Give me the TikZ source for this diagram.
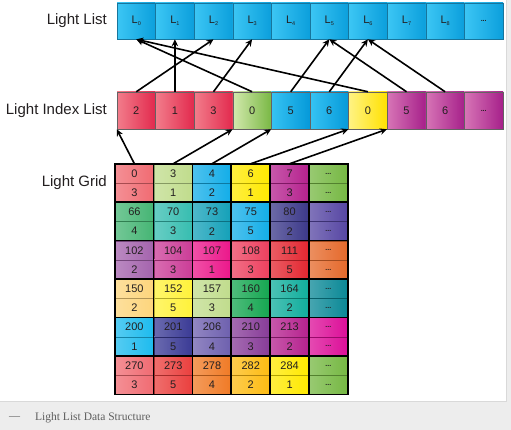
\documentclass[tikz,border=0pt]{standalone}
\usepackage{fontspec}
\setmainfont{Liberation Sans}
\newfontfamily\captionserif{Liberation Serif}
\usetikzlibrary{arrows.meta}
\definecolor{ink}{HTML}{231F20}
\definecolor{capbg}{HTML}{EDEDED}
\definecolor{capline}{HTML}{D9D9D9}
\definecolor{captext}{HTML}{5F5F5F}
\definecolor{LLa}{HTML}{3CC6F4}
\definecolor{LLb}{HTML}{0B9FDC}
\definecolor{LLline}{HTML}{17759C}
\definecolor{redL}{HTML}{F27D8B}
\definecolor{redR}{HTML}{E2294D}
\definecolor{grnL}{HTML}{D3E9AE}
\definecolor{grnR}{HTML}{79B844}
\definecolor{cynL}{HTML}{36C3F3}
\definecolor{cynR}{HTML}{0599D9}
\definecolor{ylwL}{HTML}{FFF384}
\definecolor{ylwR}{HTML}{FFE100}
\definecolor{magL}{HTML}{D775B6}
\definecolor{magR}{HTML}{A6208A}
\definecolor{gSalmon}{HTML}{F06B72}
\definecolor{gLime}{HTML}{C0DC8C}
\definecolor{gCyan}{HTML}{12ADE8}
\definecolor{gYellow}{HTML}{FFE900}
\definecolor{gMagenta}{HTML}{B5218E}
\definecolor{gGreen}{HTML}{76B843}
\definecolor{gMint}{HTML}{45B574}
\definecolor{gTeal}{HTML}{36BDB0}
\definecolor{gTealDk}{HTML}{13A0B8}
\definecolor{gIndigo}{HTML}{3B3889}
\definecolor{gViolet}{HTML}{5646A3}
\definecolor{gLavender}{HTML}{A463AD}
\definecolor{gPink}{HTML}{CB3C97}
\definecolor{gHotPink}{HTML}{EB168A}
\definecolor{gRose}{HTML}{ED3F5E}
\definecolor{gRed}{HTML}{E32630}
\definecolor{gOrange}{HTML}{E5692B}
\definecolor{gApricot}{HTML}{FDD57C}
\definecolor{gLemon}{HTML}{FFF23A}
\definecolor{gEmerald}{HTML}{14A650}
\definecolor{gTurq}{HTML}{10AD9C}
\definecolor{gPetrol}{HTML}{0A8896}
\definecolor{gSky}{HTML}{1DBBEE}
\definecolor{gIndigoB}{HTML}{3A3A95}
\definecolor{gSlate}{HTML}{6D5FAE}
\definecolor{gPurple}{HTML}{873B98}
\definecolor{gFuchsia}{HTML}{DC0E98}
\definecolor{gCoral}{HTML}{EA3F3D}
\definecolor{gTangerine}{HTML}{F07A25}
\definecolor{gAmber}{HTML}{FDBB12}
\newcommand\lname[1]{L\raisebox{-2.4pt}{\fontsize{5.5}{5.5}\selectfont #1}}
\newcommand\moredots{{\fontsize{7}{7}\selectfont\textbf{...}}}

\begin{document}
\begin{tikzpicture}[x=1pt, y=-1pt,
  every node/.style={text=ink, inner sep=0pt},
  rowname/.style={anchor=east, font=\fontsize{15}{15}\selectfont},
  lcell/.style={draw=LLline, line width=0.6pt, minimum width=38.6pt, minimum height=36pt,
    font=\fontsize{11}{11}\selectfont, left color=LLa, right color=LLb},
  icell/.style={draw=ink!70, line width=0.5pt, minimum width=38.6pt, minimum height=37pt,
    font=\fontsize{11}{11}\selectfont},
  gcell/.style={line width=0.5pt, minimum width=38.8pt, minimum height=19.2pt,
    font=\fontsize{11}{11}\selectfont},
  gframe/.style={line width=1.6pt, black},
  ptr/.style={->, >={Stealth[length=7pt,width=6.5pt]}, line width=1.6pt, black}]
  \useasboundingbox (0,0) rectangle (511,430);
  \fill[white] (0,0) rectangle (511,430);
  \fill[capbg] (0,401) rectangle (511,430);
  \fill[capbg] (506,0) rectangle (511,401);
  \draw[capline, line width=0.8pt] (0,401) -- (506,401) -- (506,0);

  \node[rowname] (lightlist) at (107,21) {Light List};
  \node[rowname] (indexlist) at (107,111) {Light Index List};
  \node[rowname] (lightgrid) at (107,183) {Light Grid};

  \foreach \i/\t in {0/\lname0,1/\lname1,2/\lname2,3/\lname3,4/\lname4,5/\lname5,6/\lname6,7/\lname7,8/\lname8,9/\moredots}
    \node[lcell] (L\i) at ({136.3+38.6*\i},21) {\t};

  \foreach \i/\v/\c in {0/2/red,1/1/red,2/3/red,3/0/grn,4/5/cyn,5/6/cyn,6/0/ylw,7/5/mag,8/6/mag,9/\moredots/mag}
    \node[icell, left color=\c L, right color=\c R] (I\i) at ({136.3+38.6*\i},110.5) {\v};

  \foreach \i/\j in {0/2,1/1,2/3,3/0,4/5,5/6,6/0,7/5,8/6}
    \draw[ptr] (I\i.north) -- (L\j.south);

  \foreach \r/\row in {
    1/{0/0/3/gSalmon,1/3/1/gLime,2/4/2/gCyan,3/6/1/gYellow,4/7/3/gMagenta,5/\moredots/\moredots/gGreen},
    2/{0/66/4/gMint,1/70/3/gTeal,2/73/2/gTealDk,3/75/5/gCyan,4/80/2/gIndigo,5/\moredots/\moredots/gViolet},
    3/{0/102/2/gLavender,1/104/3/gPink,2/107/1/gHotPink,3/108/3/gRose,4/111/5/gRed,5/\moredots/\moredots/gOrange},
    4/{0/150/2/gApricot,1/152/5/gLemon,2/157/3/gLime,3/160/4/gEmerald,4/164/2/gTurq,5/\moredots/\moredots/gPetrol},
    5/{0/200/1/gSky,1/201/5/gIndigoB,2/206/4/gSlate,3/210/3/gPurple,4/213/2/gMagenta,5/\moredots/\moredots/gFuchsia},
    6/{0/270/3/gSalmon,1/273/5/gCoral,2/278/4/gTangerine,3/282/2/gAmber,4/284/1/gYellow,5/\moredots/\moredots/gGreen}}
    \foreach \c/\a/\b/\col in \row {
      \node[gcell, draw=\col!70!black, left color=\col!75!white, right color=\col]
        (G-\r-\c-t) at ({134.4+38.8*\c},{173.6+38.4*(\r-1)}) {\a};
      \node[gcell, draw=\col!70!black, left color=\col!75!white, right color=\col]
        (G-\r-\c-b) at ({134.4+38.8*\c},{192.8+38.4*(\r-1)}) {\b};
      \draw[gframe] (G-\r-\c-t.north west) rectangle (G-\r-\c-b.south east);
    }

  \foreach \c/\k in {0/0,1/3,2/4,3/6,4/7}
    \draw[ptr] (G-1-\c-t.north) -- (I\k.south west);

  \node[anchor=west, text=captext, font=\captionserif\fontsize{11}{11}\selectfont] (capdash) at (9,418) {—};
  \node[anchor=west, text=captext, font=\captionserif\fontsize{11.5}{11.5}\selectfont] (caption) at (35,418) {Light List Data Structure};
\end{tikzpicture}
\end{document}
